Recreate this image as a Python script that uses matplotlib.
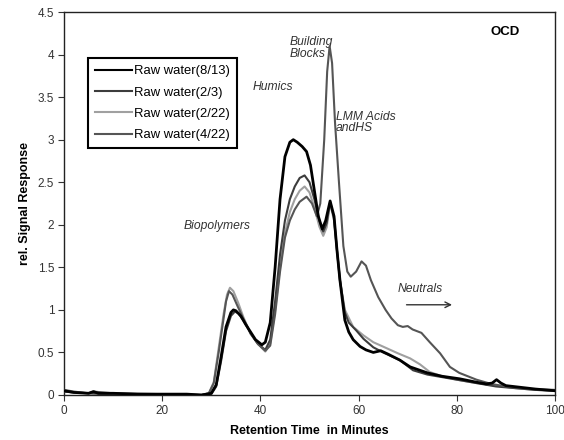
import matplotlib
matplotlib.use("Agg")
import matplotlib.pyplot as plt

plt.rcParams['font.family'] = ['Liberation Sans', 'DejaVu Sans']

labels = ["Raw water(8/13)", "Raw water(2/3)", "Raw water(2/22)", "Raw water(4/22)"]

x_813 = [0, 2, 5, 6, 7, 10, 15, 20, 25, 28, 30, 31, 32, 33, 34, 34.5, 35, 36, 37, 38, 39, 40.3, 41, 42, 43, 44, 45, 46, 46.7, 47.5, 48.5, 49.4, 50.2, 51, 51.8, 52.6, 53.3, 54.2, 55, 55.6, 56.2, 57.2, 58, 58.9, 60.3, 61.5, 63, 64.5, 66, 68.4, 70.5, 72, 74, 77, 80.6, 84, 86, 87.2, 88.1, 89, 90, 93, 96, 100]
y_813 = [0.05, 0.03, 0.02, 0.04, 0.02, 0.02, 0.01, 0.01, 0.01, 0.0, 0.02, 0.12, 0.45, 0.8, 0.97, 1.0, 0.99, 0.93, 0.83, 0.74, 0.65, 0.59, 0.62, 0.85, 1.5, 2.3, 2.8, 2.97, 3.0, 2.97, 2.92, 2.86, 2.7, 2.4, 2.1, 1.95, 2.05, 2.28, 2.1, 1.7, 1.35, 0.88, 0.74, 0.65, 0.57, 0.53, 0.5, 0.52, 0.48, 0.41, 0.33, 0.3, 0.26, 0.22, 0.19, 0.15, 0.13, 0.14, 0.18, 0.14, 0.11, 0.09, 0.07, 0.05]

x_23 = [0, 2, 5, 10, 20, 28, 30, 31, 32, 33, 34, 34.8, 35.5, 36.5, 38, 39.5, 41, 42, 43, 44, 45, 46, 47, 48, 49, 50, 51, 52, 52.8, 53.5, 54.2, 55, 55.6, 56.2, 57.2, 58, 59.5, 61, 63, 65, 66.5, 68.4, 71.1, 74, 77, 80, 84, 88, 92, 96, 100]
y_23 = [0.04, 0.03, 0.02, 0.01, 0.01, 0.0, 0.01, 0.1, 0.4, 0.75, 0.93, 0.98, 0.96, 0.88, 0.73, 0.6, 0.53, 0.65, 1.1, 1.65, 2.05, 2.3, 2.45, 2.55, 2.58, 2.5, 2.3, 2.05, 1.92, 2.02, 2.27, 2.08, 1.7, 1.35, 0.97, 0.85, 0.76, 0.66, 0.56, 0.5, 0.46, 0.41, 0.29, 0.24, 0.21, 0.18, 0.14, 0.1, 0.08, 0.06, 0.05]

x_222 = [0, 2, 5, 10, 20, 28, 29.5, 30.5, 31.5, 32.5, 33.2, 33.8, 34.5, 35.5, 36.5, 38, 39.5, 41, 42, 43, 44, 45, 46, 47, 48, 49, 50, 51, 52, 52.8, 53.5, 54.2, 55, 55.6, 56.2, 57.2, 58.9, 61, 63, 65.7, 68, 70.5, 72.5, 74.5, 77, 80, 84, 88, 92, 96, 100]
y_222 = [0.04, 0.03, 0.02, 0.01, 0.01, 0.0, 0.02, 0.15, 0.55, 0.95, 1.18, 1.26, 1.22, 1.08, 0.92, 0.72, 0.6, 0.51, 0.6, 1.0, 1.5, 1.9, 2.15, 2.3, 2.4, 2.45, 2.38, 2.2, 1.98, 1.87, 1.97, 2.25, 2.05, 1.7, 1.35, 1.0, 0.8, 0.7, 0.62, 0.55, 0.49, 0.43, 0.36, 0.27, 0.22, 0.18, 0.14, 0.11, 0.08, 0.06, 0.05]

x_422 = [0, 2, 5, 6, 10, 20, 28, 29.5, 30.5, 31.5, 32.5, 33, 33.6, 34.3, 35.3, 36.5, 38, 39.5, 41, 42, 43, 44, 45, 46, 47, 48, 49.4, 50.5, 51.5, 52.2, 53, 53.6, 54.1, 54.6, 55.2, 56, 56.9, 57.7, 58.4, 59.5, 60.6, 61.5, 62.5, 64, 65.5, 66.7, 68, 69, 70, 71, 72.8, 74.5, 76.6, 78.6, 80.5, 84, 87, 90, 95, 100]
y_422 = [0.06, 0.04, 0.02, 0.04, 0.02, 0.01, 0.0, 0.02, 0.14, 0.5, 0.9, 1.1, 1.22, 1.18, 1.05, 0.9, 0.72, 0.6, 0.52, 0.58, 0.95, 1.45, 1.85, 2.05, 2.18, 2.27, 2.33, 2.25, 2.1, 2.25, 3.0, 3.8, 4.1, 3.9, 3.2, 2.5, 1.75, 1.45, 1.39, 1.45, 1.57, 1.52, 1.35, 1.15, 1.0, 0.9, 0.82, 0.8, 0.81, 0.77, 0.73, 0.62, 0.49, 0.33, 0.26, 0.18, 0.13, 0.1, 0.07, 0.06]

series = [(x_813, y_813, "#000000", 2.0, 5),
          (x_23, y_23, "#3c3c3c", 1.5, 3),
          (x_222, y_222, "#a0a0a0", 1.5, 2),
          (x_422, y_422, "#555555", 1.5, 4)]

fig = plt.figure(figsize=(5.64, 4.40), dpi=100)
ax = fig.add_axes([0.1135, 0.1023, 0.8705, 0.8704])

for (xs, ys, c, lw, z), lab in zip(series, labels):
    ax.plot(xs, ys, color=c, lw=lw, label=lab, zorder=z)

ax.set_xlim(0, 100)
ax.set_ylim(0, 4.5)
ax.set_xticks([0, 20, 40, 60, 80, 100])
ax.set_yticks([0, 0.5, 1, 1.5, 2, 2.5, 3, 3.5, 4, 4.5])
ax.set_yticklabels(["0", "0.5", "1", "1.5", "2", "2.5", "3", "3.5", "4", "4.5"])
ax.tick_params(axis='both', labelsize=8.5, colors='#333333', direction='out', length=4, pad=3)
ax.tick_params(top=False, right=False)
for s in ax.spines.values():
    s.set_color('#222222')
    s.set_linewidth(1.0)

ax.set_xlabel("Retention Time  in Minutes", fontsize=9, fontweight='bold', labelpad=6)
ax.set_ylabel("rel. Signal Response", fontsize=9, fontweight='bold', labelpad=5)

leg = ax.legend(loc='upper left', bbox_to_anchor=(0.049, 0.88), borderaxespad=0,
                fontsize=9.4, handlelength=2.8, handletextpad=0.15, labelspacing=0.7,
                fancybox=False, framealpha=1, edgecolor='black', borderpad=0.55)
leg.get_frame().set_linewidth(1.5)
leg.set_zorder(10)
for h in leg.get_lines():
    h.set_linewidth(1.5)

tkw = dict(fontsize=8.7, style='italic', color='#333333')
ax.text(46, 4.075, "Building\nBlocks", va='center', ha='left', linespacing=0.95, **tkw)
ax.text(38.5, 3.62, "Humics", va='center', ha='left', **tkw)
ax.text(55.4, 3.2, "LMM Acids\nandHS", va='center', ha='left', linespacing=0.95, **tkw)
ax.text(24.4, 1.98, "Biopolymers", va='center', ha='left', **tkw)
ax.text(68, 1.24, "Neutrals", va='center', ha='left', **tkw)
ax.annotate("", xy=(79.6, 1.06), xytext=(69.2, 1.06),
            arrowprops=dict(arrowstyle='->', color='#333333', lw=1.0))
ax.text(86.8, 4.27, "OCD", va='center', ha='left', fontsize=9.5, fontweight='bold')

fig.savefig("out.png", dpi=100)
